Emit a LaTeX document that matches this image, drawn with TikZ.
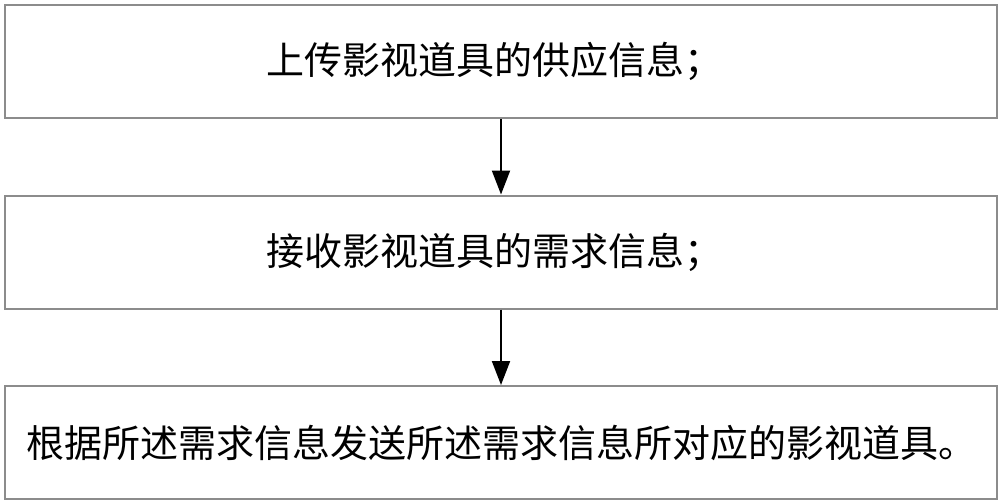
\documentclass[tikz,border=0pt]{standalone}
\usepackage{fontspec}
\newfontfamily\cjk{Noto Sans CJK SC}
\usetikzlibrary{arrows.meta}
\begin{document}
\begin{tikzpicture}[x=1pt,y=-1pt,
  stepbox/.style={draw=black!45,line width=2pt,minimum width=992pt,minimum height=113pt,inner sep=0pt,font=\cjk\fontsize{38}{44}\selectfont},
  flowarrow/.style={draw=black,line width=2pt,-{Triangle[width=18pt,length=24pt]}}]
\useasboundingbox (0,0) rectangle (1000,503);
\fill[white] (0,0) rectangle (1000,503);
\node[stepbox] (s1) at (501,61.5) {\hspace*{-14pt}上传影视道具的供应信息；};
\node[stepbox] (s2) at (501,252) {\hspace*{-14pt}接收影视道具的需求信息；};
\node[stepbox] (s3) at (501,442.5) {根据所述需求信息发送所述需求信息所对应的影视道具。};
\draw[flowarrow] (s1.south) -- (s2.north);
\draw[flowarrow] (s2.south) -- (s3.north);
\end{tikzpicture}
\end{document}
